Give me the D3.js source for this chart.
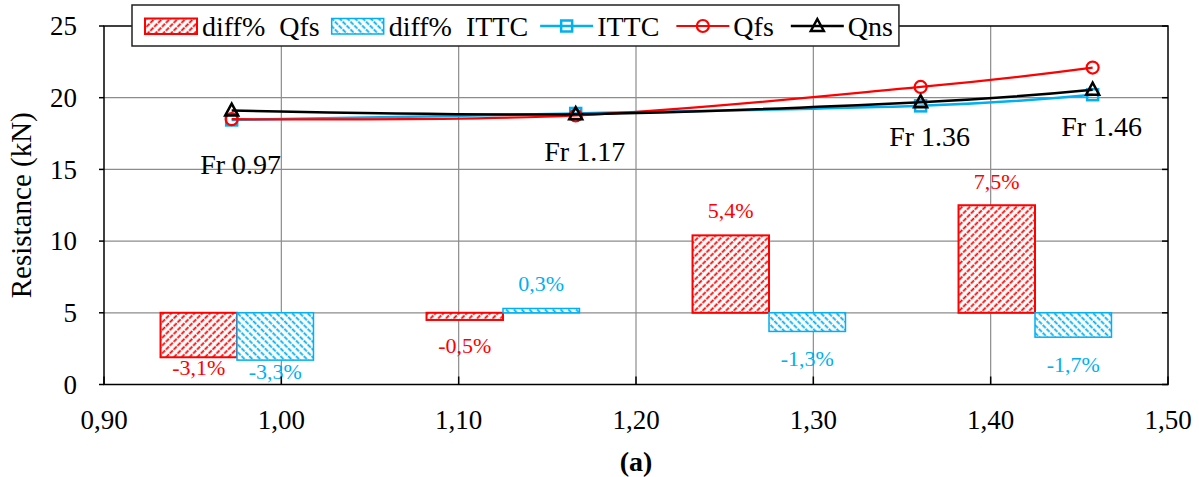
<!DOCTYPE html>
<html lang="en">
<head>
    <meta charset="UTF-8">
    <title>Resistance vs Froude number</title>
    <script src="https://d3js.org/d3.v7.min.js"></script>
    <style>
        body {
            margin: 0;
            background: white;
            overflow: hidden;
        }
        svg text {
            font-family: "Liberation Serif", "DejaVu Serif", "Times New Roman", serif;
        }
    </style>
</head>
<body>
    <svg id="chart" width="1199" height="477" font-family="Liberation Serif, DejaVu Serif, serif"></svg>

    <script>
        // froude numbers of the measured runs
        const froude = [0.972, 1.166, 1.3605, 1.4575];
        const froudeNames = ["Fr 0.97", "Fr 1.17", "Fr 1.36", "Fr 1.46"];
        // resistance in kN
        const ittc = [18.45, 18.9, 19.43, 20.21];
        const qfs = [18.5, 18.76, 20.75, 22.1];
        const qns = [19.1, 18.85, 19.69, 20.56];
        // percentage differences vs Qns (bars are drawn from a base of 5)
        const diffQfs = [-3.1, -0.5, 5.4, 7.5];
        const diffIttc = [-3.3, 0.3, -1.3, -1.7];
        const diffBase = 5;
        // where the Fr notes sit (kN)
        const noteLevel = [14.7, 15.6, 16.6, 17.3];

        const xTicks = [0.9, 1.0, 1.1, 1.2, 1.3, 1.4, 1.5];
        const yTicks = [0, 5, 10, 15, 20, 25];

        const red = "#ff0000",
              blue = "#00b0f0";

        const plotL = 104, plotR = 1168, plotT = 26, plotB = 384.5;

        const svg = d3.select("#chart");

        const x = d3.scaleLinear().domain([0.9, 1.5]).range([plotL, plotR]);
        const y = d3.scaleLinear().domain([0, 25]).range([plotB, plotT]);

        // bars live on a category axis spread over the same width
        const band = d3.scaleBand()
                       .domain(froudeNames)
                       .range([plotL, plotR])
                       .paddingInner(0.425)
                       .paddingOuter(0.2125);
        const sub = d3.scaleBand()
                      .domain(["qfs", "ittc"])
                      .range([0, band.bandwidth()]);

        // hatch patterns
        const defs = svg.append("defs");
        function hatch(id, color, angle) {
            const p = defs.append("pattern")
                .attr("id", id)
                .attr("patternUnits", "userSpaceOnUse")
                .attr("width", 5.5)
                .attr("height", 5.5)
                .attr("patternTransform", `rotate(${angle})`);
            p.append("rect").attr("width", 5.5).attr("height", 5.5).attr("fill", "white");
            p.append("line")
                .attr("x1", 1.5).attr("y1", 0).attr("x2", 1.5).attr("y2", 5.5)
                .attr("stroke", color)
                .attr("stroke-width", 1.8)
                .attr("stroke-dasharray", "3.5,1");
        }
        hatch("hatchRed", red, 45);
        hatch("hatchBlue", blue, -45);

        // grid
        svg.append("g")
           .selectAll("line")
           .data(yTicks.slice(1, -1))
           .join("line")
           .attr("x1", plotL).attr("x2", plotR)
           .attr("y1", d => y(d)).attr("y2", d => y(d))
           .attr("stroke", "#8c8c8c")
           .attr("stroke-width", 1.2);

        svg.append("g")
           .selectAll("line")
           .data(xTicks.slice(1, -1))
           .join("line")
           .attr("x1", d => x(d)).attr("x2", d => x(d))
           .attr("y1", plotT).attr("y2", plotB)
           .attr("stroke", "#8c8c8c")
           .attr("stroke-width", 1.2);

        // bars
        const barData = [];
        froudeNames.forEach((f, i) => {
            barData.push({cat: f, key: "qfs", v: diffQfs[i], i: i});
            barData.push({cat: f, key: "ittc", v: diffIttc[i], i: i});
        });

        svg.append("g")
           .selectAll("rect")
           .data(barData)
           .join("rect")
           .attr("x", d => band(d.cat) + sub(d.key))
           .attr("width", sub.bandwidth())
           .attr("y", d => y(Math.max(diffBase, diffBase + d.v)))
           .attr("height", d => Math.abs(y(diffBase) - y(diffBase + d.v)))
           .attr("fill", d => d.key === "qfs" ? "url(#hatchRed)" : "url(#hatchBlue)")
           .attr("stroke", d => d.key === "qfs" ? red : blue)
           .attr("stroke-width", d => d.key === "qfs" ? 2 : 1.5);

        // bar labels, nudged a bit where the original had them dragged
        const labelGap = {qfs: [18, 33, 17, 16], ittc: [19, 17, 35, 35]};
        const fmt = v => (v.toFixed(1) + "%").replace(".", ",");

        svg.append("g")
           .selectAll("text")
           .data(barData)
           .join("text")
           .attr("x", d => band(d.cat) + sub(d.key) + sub.bandwidth() / 2)
           .attr("y", d => {
                const gap = labelGap[d.key][d.i];
                return d.v < 0 ? y(diffBase + d.v) + gap : y(diffBase + d.v) - gap;
           })
           .attr("text-anchor", "middle")
           .attr("fill", d => d.key === "qfs" ? red : blue)
           .style("font-size", "22px")
           .text(d => fmt(d.v));

        // frame
        svg.append("rect")
           .attr("x", plotL).attr("y", plotT)
           .attr("width", plotR - plotL).attr("height", plotB - plotT)
           .attr("fill", "none")
           .attr("stroke", "black")
           .attr("stroke-width", 1.5);

        // axes ticks
        svg.append("g")
           .selectAll("line")
           .data(yTicks)
           .join("line")
           .attr("x1", plotL - 5).attr("x2", plotL)
           .attr("y1", d => y(d)).attr("y2", d => y(d))
           .attr("stroke", "black").attr("stroke-width", 1.5);

        svg.append("g")
           .selectAll("line")
           .data(yTicks)
           .join("line")
           .attr("x1", plotR - 6).attr("x2", plotR)
           .attr("y1", d => y(d)).attr("y2", d => y(d))
           .attr("stroke", "black").attr("stroke-width", 1.5);

        svg.append("g")
           .selectAll("line")
           .data(xTicks)
           .join("line")
           .attr("x1", d => x(d)).attr("x2", d => x(d))
           .attr("y1", plotB).attr("y2", plotB - 8)
           .attr("stroke", "black").attr("stroke-width", 1.5);

        svg.append("g")
           .selectAll("text")
           .data(yTicks)
           .join("text")
           .attr("x", plotL - 27)
           .attr("y", d => y(d))
           .attr("dy", "0.34em")
           .attr("text-anchor", "end")
           .style("font-size", "27px")
           .text(d => d);

        svg.append("g")
           .selectAll("text")
           .data(xTicks)
           .join("text")
           .attr("x", d => x(d))
           .attr("y", 429)
           .attr("text-anchor", "middle")
           .style("font-size", "27px")
           .text(d => d.toFixed(2).replace(".", ","));

        svg.append("text")
           .attr("transform", `translate(31,${(plotT + plotB) / 2}) rotate(-90)`)
           .attr("text-anchor", "middle")
           .style("font-size", "29px")
           .text("Resistance (kN)");

        svg.append("text")
           .attr("x", (plotL + plotR) / 2)
           .attr("y", 471)
           .attr("text-anchor", "middle")
           .style("font-size", "28px")
           .style("font-weight", "bold")
           .text("(a)");

        // lines
        const series = [
            {name: "ITTC", values: ittc, color: blue, width: 2.5, marker: "square"},
            {name: "Qfs", values: qfs, color: red, width: 2.2, marker: "circle"},
            {name: "Qns", values: qns, color: "black", width: 2.5, marker: "triangle"}
        ];

        const line = d3.line()
                       .x((d, i) => x(froude[i]))
                       .y(d => y(d))
                       .curve(d3.curveCardinal.tension(0));

        function marker(g, type, color) {
            if (type === "square") {
                g.append("rect")
                 .attr("x", -5.5).attr("y", -5.5).attr("width", 11).attr("height", 11)
                 .attr("fill", "none").attr("stroke", color).attr("stroke-width", 2.5);
            } else if (type === "circle") {
                g.append("circle")
                 .attr("r", 6)
                 .attr("fill", "none").attr("stroke", color).attr("stroke-width", 2.2);
            } else {
                g.append("path")
                 .attr("d", "M0,-7L6.5,5L-6.5,5Z")
                 .attr("fill", "none").attr("stroke", color).attr("stroke-width", 2.5);
            }
        }

        series.forEach(s => {
            svg.append("path")
               .datum(s.values)
               .attr("d", line)
               .attr("fill", "none")
               .attr("stroke", s.color)
               .attr("stroke-width", s.width);

            s.values.forEach((v, i) => {
                const g = svg.append("g").attr("transform", `translate(${x(froude[i])},${y(v)})`);
                marker(g, s.marker, s.color);
            });
        });

        // Fr notes
        svg.append("g")
           .selectAll("text")
           .data(froudeNames)
           .join("text")
           .attr("x", (d, i) => x(froude[i]) + 9)
           .attr("y", (d, i) => y(noteLevel[i]))
           .attr("text-anchor", "middle")
           .style("font-size", "28px")
           .text(d => d);

        // legend
        const legend = svg.append("g");
        const legBox = legend.append("rect")
            .attr("x", 132).attr("y", 5)
            .attr("height", 41)
            .attr("fill", "white")
            .attr("stroke", "#222")
            .attr("stroke-width", 1.5);

        const legItems = [
            {label: "diff%  Qfs", kind: "bar", fill: "url(#hatchRed)", color: red, sw: 2},
            {label: "diff%  ITTC", kind: "bar", fill: "url(#hatchBlue)", color: blue, sw: 1.5},
            {label: "ITTC", kind: "line", color: blue, width: 2.5, marker: "square"},
            {label: "Qfs", kind: "line", color: red, width: 2.2, marker: "circle"},
            {label: "Qns", kind: "line", color: "black", width: 2.5, marker: "triangle"}
        ];

        let lx = 145;
        legItems.forEach(it => {
            let after;
            if (it.kind === "bar") {
                legend.append("rect")
                      .attr("x", lx).attr("y", 18.5).attr("width", 52).attr("height", 15.5)
                      .attr("fill", it.fill).attr("stroke", it.color).attr("stroke-width", it.sw);
                lx += 57;
                after = 12;
            } else {
                legend.append("line")
                      .attr("x1", lx).attr("x2", lx + 53).attr("y1", 26).attr("y2", 26)
                      .attr("stroke", it.color).attr("stroke-width", it.width);
                const g = legend.append("g").attr("transform", `translate(${lx + 26.5},26)`);
                marker(g, it.marker, it.color);
                lx += 57;
                after = 17;
            }
            const t = legend.append("text")
                            .attr("x", lx).attr("y", 35.5)
                            .style("font-size", "28px")
                            .style("white-space", "pre")
                            .attr("xml:space", "preserve")
                            .text(it.label);
            lx += t.node().getComputedTextLength() + after;
        });
        legBox.attr("width", lx - 17 + 6 - 132);
    </script>
</body>
</html>
